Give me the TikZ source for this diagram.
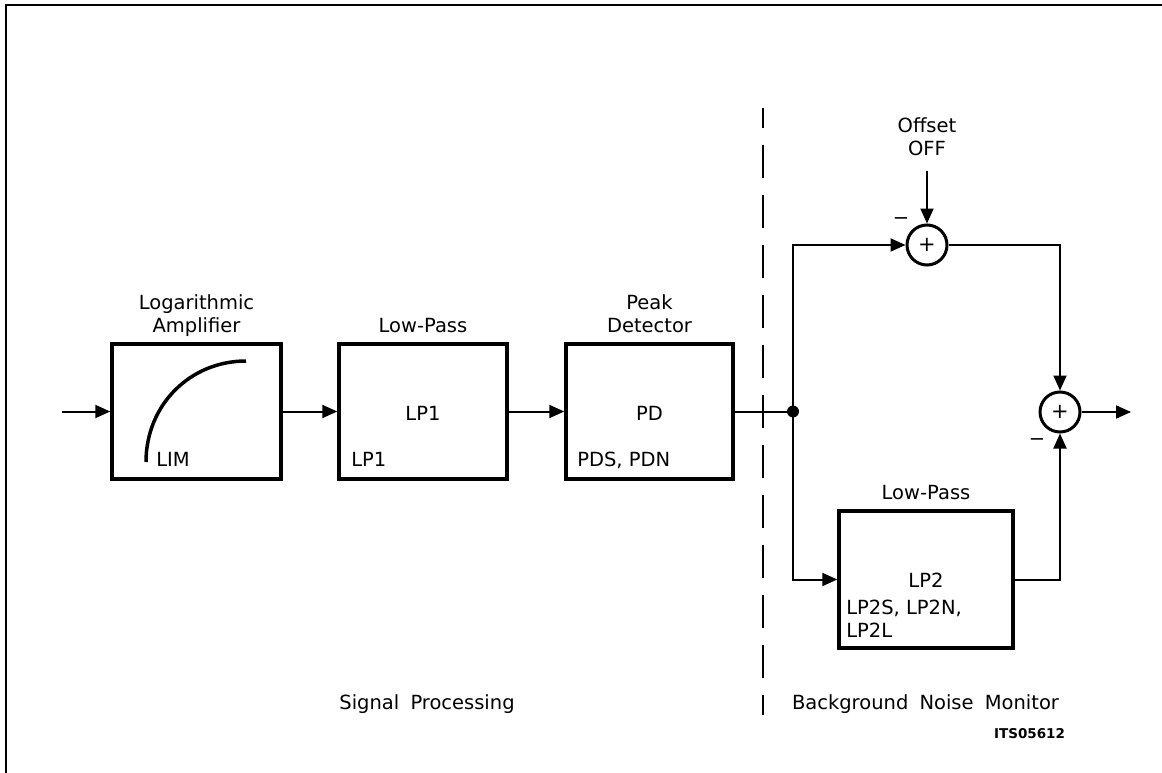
\documentclass[tikz,border=0pt]{standalone}
\usepackage{fontspec}
\setmainfont{DejaVu Sans}
\usetikzlibrary{arrows.meta,positioning}

\tikzset{
  block/.style={draw, line width=3.5pt, minimum width=169pt, minimum height=135pt, inner sep=0pt},
  sumnode/.style={circle, draw, line width=3pt, minimum size=40pt, inner sep=0pt, font=\fontsize{21}{21}\selectfont},
  title/.style={align=center, inner sep=0pt, text depth=0pt},
  tag/.style={anchor=base west, inner sep=0pt},
  arr/.style={-{Triangle[length=15pt,width=13pt]}},
}

\begin{document}
\begin{tikzpicture}[x=1pt, y=-1pt, line width=2pt, font=\fontsize{19.5}{23}\selectfont]
    \useasboundingbox (0,0) rectangle (1162,773);
    % Cadre
    \draw (6,773) -- (6,5) -- (1162,5);

    % Blocs du traitement du signal
    \node[block] (la) at (196.5,411.5) {};
    \node[block, minimum width=168pt] (lpa) at (423,411.5) {};
    \node[block, minimum width=167pt] (pd) at (649.5,411.5) {};
    \node[title, above=9pt of la] (latitle) {Logarithmic\\Amplifier};
    \node[title, above=9pt of lpa] (lpatitle) {Low-Pass};
    \node[title, above=9pt of pd] (pdtitle) {Peak\\Detector};

    % Courbe logarithmique et textes internes
    \draw[line width=3.5pt] (146,462) .. controls (146,405) and (190,361) .. (246,361);
    \node[tag] (latag) at ([xshift=45pt,yshift=14pt]la.south west) {LIM};
    \node[inner sep=0pt, yshift=-2pt] (lpatxt) at (lpa) {LP1};
    \node[tag] (lpatag) at ([xshift=13pt,yshift=14pt]lpa.south west) {LP1};
    \node[inner sep=0pt, yshift=-2pt] (pdtxt) at (pd) {PD};
    \node[tag] (pdtag) at ([xshift=12pt,yshift=14pt]pd.south west) {PDS, PDN};

    % Liaisons
    \coordinate (in) at (62,411.5);
    \coordinate (jn) at (793,411.5);
    \draw[arr] (in) -- (la);
    \draw[arr] (la) -- (lpa);
    \draw[arr] (lpa) -- (pd);
    \draw (pd) -- (jn);
    \fill (jn) circle (6pt);

    % Séparation
    \draw[dash pattern=on 33pt off 17pt, dash phase=13pt] (763,108) -- (763,715);

    % Moniteur du bruit de fond
    \node[sumnode] (sa) at (927,245) {+};
    \node[sumnode] (sb) at (1060,412) {+};
    \node[block, minimum width=174pt, minimum height=137pt] (lpb) at (926,579.5) {};
    \node[title, above=9pt of lpb] (lpbtitle) {Low-Pass};
    \node[inner sep=0pt, anchor=base] (lpbtxt) at (926,587) {LP2};
    \node[title, align=left, anchor=south west] (lpbtag) at ([xshift=8pt,yshift=11pt]lpb.south west) {LP2S, LP2N,\\LP2L};
    \node[title, above=67pt of sa] (offlbl) {Offset\\OFF};
    \node[inner sep=0pt, anchor=base] (ma) at (901,224.5) {−};
    \node[inner sep=0pt, anchor=base] (mb) at (1037,445.5) {−};
    \coordinate (out) at (1131,412);

    \draw[arr] ([yshift=-14pt]offlbl.south) -- (sa);
    \draw[arr] (jn) |- (sa);
    \draw[arr] (jn) |- (lpb);
    \draw[arr] (sa) -| (sb);
    \draw[arr] (lpb) -| (sb);
    \draw[arr] (sb) -- (out);

    % Légendes
    \node[inner sep=0pt, anchor=base] (sigproc) at (427,709) {Signal\hspace{5pt} Processing};
    \node[inner sep=0pt, anchor=base west] (bnm) at (791,709) {Background\hspace{5pt} Noise\hspace{5pt} Monitor};
    \node[inner sep=0pt, anchor=base east, font=\fontsize{13.5}{16}\selectfont\bfseries] (ref) at (1066,738) {ITS05612};
\end{tikzpicture}
\end{document}
